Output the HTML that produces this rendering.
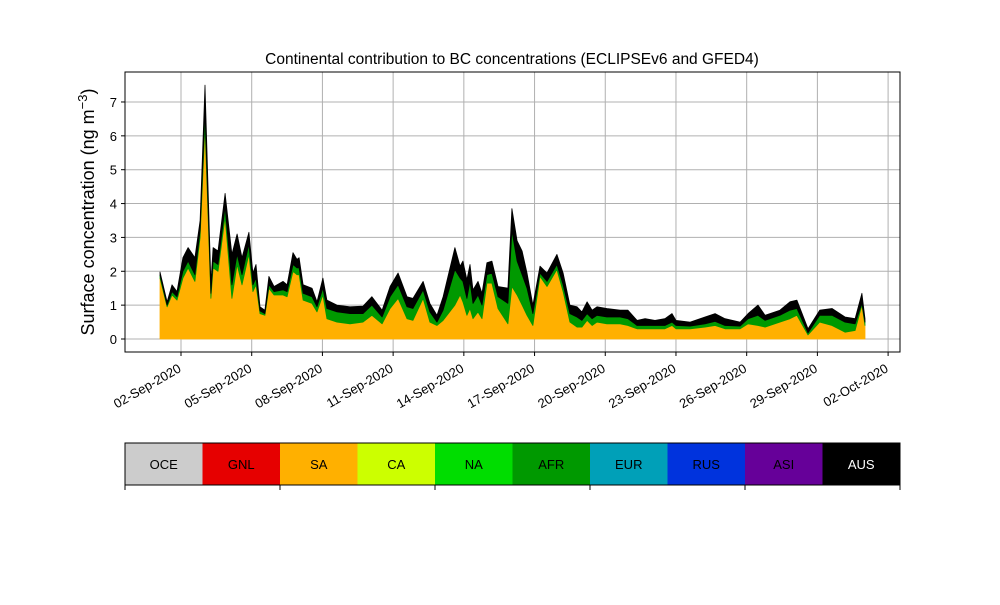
<!DOCTYPE html>
<html><head><meta charset="utf-8"><style>
body{margin:0;background:#fff;}
svg text{font-family:"Liberation Sans","DejaVu Sans",sans-serif;}
</style></head><body>
<svg id="chart" width="1000" height="600" viewBox="0 0 1000 600" xmlns="http://www.w3.org/2000/svg">
<rect width="1000" height="600" fill="#fff"/>
<text x="512" y="64" text-anchor="middle" font-size="15.5">Continental contribution to BC concentrations (ECLIPSEv6 and GFED4)</text>
<g id="grid"></g>
<g id="areas"></g>
<rect x="125" y="72" width="775" height="280" fill="none" stroke="#000" stroke-width="1"/>
<g id="axes"></g>
<text transform="translate(94,212) rotate(-90)" text-anchor="middle" font-size="18">Surface concentration (ng m<tspan dy="-7" font-size="13">−3</tspan><tspan dy="7">)</tspan></text>
<g id="cbar"></g>
</svg>
<script>
const days = [1.11,1.41,1.62,1.83,2.08,2.30,2.59,2.81,3.02,3.27,3.36,3.57,3.87,4.16,4.38,4.59,4.88,5.05,5.18,5.35,5.56,5.73,5.95,6.33,6.50,6.75,6.92,7.01,7.18,7.56,7.77,8.02,8.19,8.62,9.17,9.72,10.10,10.53,10.87,11.21,11.59,11.84,12.27,12.56,12.86,13.12,13.62,13.84,13.96,14.13,14.26,14.39,14.60,14.77,14.98,15.19,15.45,15.87,16.04,16.26,16.47,16.68,16.93,17.23,17.53,17.95,18.21,18.50,18.80,19.01,19.23,19.44,19.65,20.07,20.63,20.96,21.35,21.69,22.11,22.53,22.83,23.0,23.6,24.23,24.66,25.08,25.72,26.06,26.48,26.78,27.41,27.84,28.13,28.6,29.1,29.62,30.17,30.6,30.89,31.02];
const sa = [1.8,0.95,1.3,1.15,1.8,2.1,1.7,3.0,6.3,1.2,2.1,2.0,3.6,1.2,2.2,1.6,2.5,1.4,1.6,0.75,0.7,1.5,1.3,1.3,1.25,2.0,1.9,1.9,1.15,1.05,0.8,1.3,0.6,0.5,0.45,0.5,0.7,0.45,0.9,1.2,0.6,0.55,1.2,0.5,0.4,0.55,1.0,1.3,1.1,0.7,0.9,0.6,0.8,0.6,1.65,1.65,0.9,0.45,1.55,1.3,1.0,0.7,0.4,1.85,1.55,2.05,1.4,0.5,0.35,0.35,0.55,0.4,0.5,0.45,0.45,0.4,0.3,0.3,0.3,0.3,0.4,0.3,0.3,0.35,0.4,0.3,0.3,0.45,0.4,0.35,0.5,0.6,0.7,0.12,0.5,0.4,0.2,0.25,1.0,0.4];
const afr = [0.08,0.05,0.1,0.1,0.2,0.2,0.2,0.2,0.4,0.15,0.2,0.2,0.3,0.4,0.3,0.3,0.3,0.2,0.2,0.08,0.05,0.1,0.1,0.15,0.15,0.2,0.2,0.2,0.2,0.2,0.15,0.2,0.3,0.3,0.3,0.25,0.3,0.2,0.35,0.4,0.35,0.35,0.25,0.3,0.1,0.3,1.05,0.5,0.6,0.5,0.8,0.45,0.5,0.4,0.25,0.3,0.35,0.6,1.65,1.0,0.9,0.8,0.35,0.1,0.15,0.15,0.2,0.25,0.3,0.2,0.2,0.2,0.2,0.2,0.2,0.2,0.1,0.1,0.1,0.1,0.1,0.1,0.08,0.1,0.12,0.1,0.08,0.15,0.3,0.2,0.2,0.25,0.2,0.06,0.2,0.3,0.3,0.2,0.05,0.1];
const aus = [0.1,0.1,0.2,0.15,0.4,0.4,0.5,0.3,0.8,0.3,0.4,0.4,0.4,0.9,0.6,0.5,0.35,0.35,0.4,0.12,0.1,0.25,0.15,0.25,0.2,0.35,0.25,0.3,0.25,0.25,0.15,0.3,0.25,0.2,0.2,0.22,0.25,0.2,0.3,0.35,0.3,0.3,0.25,0.25,0.2,0.4,0.65,0.35,0.6,0.55,0.5,0.4,0.4,0.35,0.35,0.35,0.3,0.45,0.65,0.6,0.7,0.45,0.25,0.2,0.25,0.3,0.35,0.25,0.3,0.25,0.35,0.25,0.25,0.25,0.2,0.25,0.15,0.2,0.15,0.2,0.25,0.15,0.12,0.2,0.23,0.2,0.12,0.15,0.3,0.15,0.15,0.25,0.25,0.12,0.15,0.2,0.15,0.15,0.3,0.1];
const yTicks = [0,1,2,3,4,5,6,7];
const xTickDays = [2,5,8,11,14,17,20,23,26,29,32];
const xTickLabels = ["02-Sep-2020","05-Sep-2020","08-Sep-2020","11-Sep-2020","14-Sep-2020","17-Sep-2020","20-Sep-2020","23-Sep-2020","26-Sep-2020","29-Sep-2020","02-Oct-2020"];
const regions = ["OCE","GNL","SA","CA","NA","AFR","EUR","RUS","ASI","AUS"];
const regionColors = ["#cccccc","#e60000","#ffb000","#ccff00","#00dd00","#009900","#00a0b8","#0033dd","#660099","#000000"];

const NS="http://www.w3.org/2000/svg";
const X = d => 181 + (d-2)*23.57;
const Y = v => 339 - v*33.86;
function mk(tag, attrs, parent){const e=document.createElementNS(NS,tag);for(const k in attrs)e.setAttribute(k,attrs[k]);parent.appendChild(e);return e;}
const grid=document.getElementById('grid'), axes=document.getElementById('axes'), areas=document.getElementById('areas'), cbar=document.getElementById('cbar');

yTicks.forEach(v=>{
  const g=mk('line',{x1:125,x2:900,y1:Y(v),y2:Y(v),stroke:'#b0b0b0','stroke-width':1},grid);
  
  
  const t=mk('line',{x1:121,x2:125,y1:Y(v),y2:Y(v),stroke:'#000'},axes);
  
  
  const l=mk('text',{x:117,y:Y(v)+5,'text-anchor':'end','font-size':13},axes);
  l.textContent=v;
  
  
});
xTickDays.forEach((d,i)=>{
  const x=X(d);
  const g=mk('line',{x1:x,x2:x,y1:72,y2:352,stroke:'#b0b0b0','stroke-width':1},grid);
  
  
  const t=mk('line',{x1:x,x2:x,y1:352,y2:356,stroke:'#000'},axes);
  
  
  const l=mk('text',{x:x+1,y:371,'text-anchor':'end','font-size':13,transform:`rotate(-30 ${x+1} 371)`},axes);
  l.textContent=xTickLabels[i];
  
  
});

const layers=[{vals:sa,color:'#ffb000',name:'sa-area'},{vals:afr,color:'#009900',name:'afr-area'},{vals:aus,color:'#000000',name:'aus-area'}];
let base=days.map(()=>0);
layers.forEach(L=>{
  const top=base.map((b,i)=>b+L.vals[i]);
  let d='M'+days.map((t,i)=>X(t).toFixed(1)+','+Y(top[i]).toFixed(1)).join('L');
  for(let i=days.length-1;i>=0;i--) d+='L'+X(days[i]).toFixed(1)+','+Y(base[i]).toFixed(1);
  d+='Z';
  const p=mk('path',{d:d,fill:L.color,stroke:L.color,'stroke-width':0.8,'stroke-linejoin':'round'},areas);
  
  
  base=top;
});

const cw=77.5;
regions.forEach((r,i)=>{
  const x=125+i*cw;
  const c=mk('rect',{x:x,y:443,width:cw,height:42,fill:regionColors[i]},cbar);
  
  
  const t=mk('text',{x:x+cw/2,y:469,'text-anchor':'middle','font-size':13,fill:r==='AUS'?'#fff':'#000'},cbar);
  t.textContent=r;
  
  
});
const fr=mk('rect',{x:125,y:443,width:775,height:42,fill:'none',stroke:'#000'},cbar);


for(let i=0;i<=5;i++){
  const x=125+i*155;
  const t=mk('line',{x1:x,x2:x,y1:485,y2:490,stroke:'#000'},cbar);
  
  
}
</script>
</body></html>
